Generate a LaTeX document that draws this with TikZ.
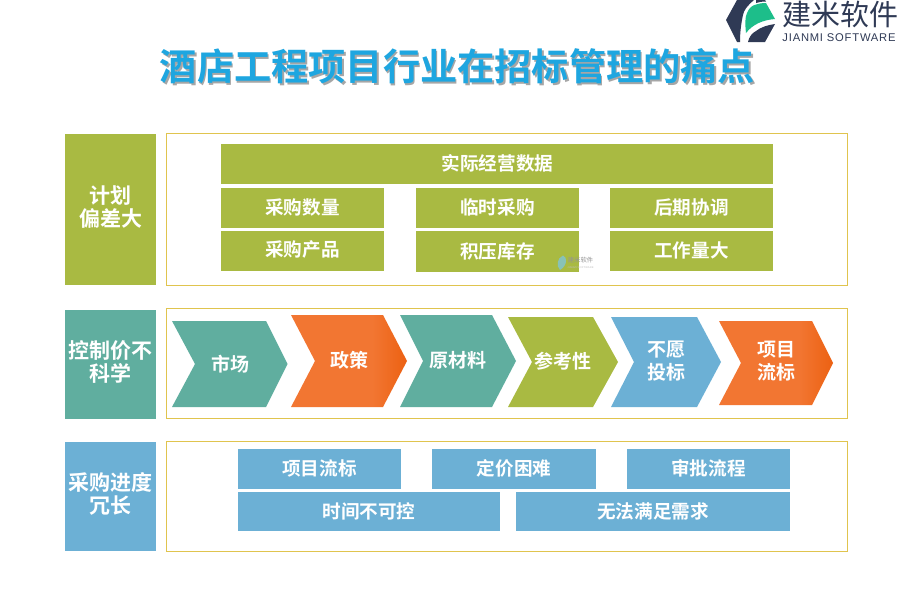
\documentclass[tikz,border=0pt]{standalone}
\usepackage{fontspec}
\setmainfont{Noto Sans CJK SC}[BoldFont={Noto Sans CJK SC Bold}]
\newfontfamily\logofont{Noto Sans CJK SC}
\newfontfamily\logolatin[LetterSpace=7]{Liberation Sans}
\definecolor{cgreen}{HTML}{A9BA42}
\definecolor{cteal}{HTML}{60AE9F}
\definecolor{cblue}{HTML}{6CB0D5}
\definecolor{corange}{HTML}{F27632}
\definecolor{cdeep}{HTML}{EC6112}
\definecolor{cframe}{HTML}{E0C44E}
\definecolor{ctitle}{HTML}{1EA6E0}
\definecolor{cdark}{HTML}{2F3A55}
\definecolor{cleaf}{HTML}{1DBE8A}
% only the span 25bp..75bp of a shading is seen on a path
\pgfdeclarehorizontalshading{orangeflow}{100bp}{
  color(0bp)=(corange); color(60bp)=(corange); color(75bp)=(cdeep); color(100bp)=(cdeep)}
\tikzset{
  panel/.style={draw=cframe,line width=1.2pt,fill=white},
  tag/.style={font=\bfseries\fontsize{21}{23}\selectfont,text=white,align=center},
  cell/.style={font=\bfseries\fontsize{18.6}{22}\selectfont,text=white,align=center},
  flow/.style={font=\bfseries\fontsize{19}{23}\selectfont,text=white,align=center},
}
\begin{document}
\begin{tikzpicture}[x=1pt,y=-1pt]
\useasboundingbox (0,0) rectangle (900,600);
\fill[white] (0,0) rectangle (900,600);
% title with its soft shadow, as one node
\node[font=\bfseries\fontsize{37.2}{40}\selectfont,text=ctitle] (title) at (457.5,67)
  {\rlap{\hspace{1.6pt}\raisebox{-2pt}{\textcolor{black!35}{酒店工程项目行业在招标管理的痛点}}}酒店工程项目行业在招标管理的痛点};
% logo
\fill[cdark] (726,20) -- (737,0) -- (754,0) .. controls (747,6) and (744,10) .. (743,15) .. controls (741,24) and (740,33) .. (740,42) -- (737,42) -- cycle;
\fill[cdark] (756,0) -- (765,0) -- (766,1.5) .. controls (762,1.5) and (759,2) .. (756,3) -- cycle;
\fill[cleaf] (746,33) .. controls (745,24) and (745,17) .. (747,13) .. controls (749,8) and (752,5.5) .. (756,4.5) .. controls (759,3.5) and (762,3) .. (766,3) -- (775,19) .. controls (763,20) and (753,24) .. (746,33) -- cycle;
\fill[cdark] (748,42) .. controls (749,37) and (752,33) .. (756,31) .. controls (761,27) and (768,25) .. (775,24) -- (765,42) -- cycle;
\node[font=\logofont\fontsize{29}{32}\selectfont,text=cdark,inner sep=0pt] (logocn) at (840,14) {建米软件};
\node[font=\logolatin\fontsize{11.2}{13}\selectfont,text=cdark,inner sep=0pt] (logoen) at (839,38) {JIANMI SOFTWARE};
% row 1
\fill[cgreen] (65,134) rectangle (156,285);
\node[tag] (t1) at (110.5,207) {计划\\偏差大};
\draw[panel] (166.5,133.5) rectangle (847.5,285.5);
\fill[cgreen] (221,144) rectangle (773,184);
\node[cell] (a0) at (497.5,163) {实际经营数据};
\fill[cgreen] (221,188) rectangle (384,228);
\node[cell] (a1) at (302.5,207) {采购数量};
\fill[cgreen] (416,188) rectangle (579,228);
\node[cell] (a2) at (497.5,207) {临时采购};
\fill[cgreen] (610,188) rectangle (773,228);
\node[cell] (a3) at (691.5,207) {后期协调};
\fill[cgreen] (221,231) rectangle (384,271);
\node[cell] (a4) at (302.5,250) {采购产品};
\fill[cgreen] (416,231) rectangle (579,272);
\node[cell] (a5) at (497.5,251) {积压库存};
\fill[cgreen] (610,231) rectangle (773,271);
\node[cell] (a6) at (691.5,250) {工作量大};
% watermark
\fill[cteal!75!white] (560,270) .. controls (556,266) and (557,258) .. (563,255.5) .. controls (568,257) and (567,266) .. (560,270) -- cycle;
\node[font=\logofont\fontsize{6.3}{7}\selectfont,text=black!42,inner sep=0pt] (wm) at (580.5,260) {建米软件};
\node[font=\logolatin\fontsize{2.6}{3}\selectfont,text=black!25,inner sep=0pt] (wmen) at (580.5,267.5) {JIANMI SOFTWARE};
% row 2
\fill[cteal] (65,310) rectangle (156,419);
\node[tag] (t2) at (110.5,362) {控制价不\\科学};
\draw[panel] (166.5,308.5) rectangle (847.5,418.5);
\fill[cteal] (172,321) -- (266,321) -- (287.5,364) -- (266,407) -- (172,407) -- (195,364) -- cycle;
\node[flow] (b1) at (230,364) {市场};
\shade[shading=orangeflow] (291,315) -- (383,315) -- (407,361) -- (383,407) -- (291,407) -- (315,361) -- cycle;
\node[flow] (b2) at (349,360) {政策};
\fill[cteal] (400,315) -- (492,315) -- (516,361) -- (492,407) -- (400,407) -- (423,361) -- cycle;
\node[flow] (b3) at (458,360) {原材料};
\fill[cgreen] (508,317) -- (593,317) -- (618,362) -- (593,407) -- (508,407) -- (532,362) -- cycle;
\node[flow] (b4) at (563,361) {参考性};
\fill[cblue] (611,317) -- (697,317) -- (721,362) -- (697,407) -- (611,407) -- (634,362) -- cycle;
\node[flow] (b5) at (666,361) {不愿\\投标};
\shade[shading=orangeflow] (719,321) -- (812,321) -- (833,363) -- (812,405) -- (719,405) -- (741,363) -- cycle;
\node[flow] (b6) at (776,361) {项目\\流标};
% row 3
\fill[cblue] (65,442) rectangle (156,551);
\node[tag] (t3) at (110.5,494) {采购进度\\冗长};
\draw[panel] (166.5,441.5) rectangle (847.5,551.5);
\fill[cblue] (238,449) rectangle (401,489);
\node[cell] (c1) at (319.5,468) {项目流标};
\fill[cblue] (432,449) rectangle (596,489);
\node[cell] (c2) at (514,468) {定价困难};
\fill[cblue] (627,449) rectangle (790,489);
\node[cell] (c3) at (708.5,468) {审批流程};
\fill[cblue] (238,492) rectangle (500,531);
\node[cell] (c4) at (369,511) {时间不可控};
\fill[cblue] (516,492) rectangle (790,531);
\node[cell] (c5) at (653,511) {无法满足需求};
\end{tikzpicture}
\end{document}
